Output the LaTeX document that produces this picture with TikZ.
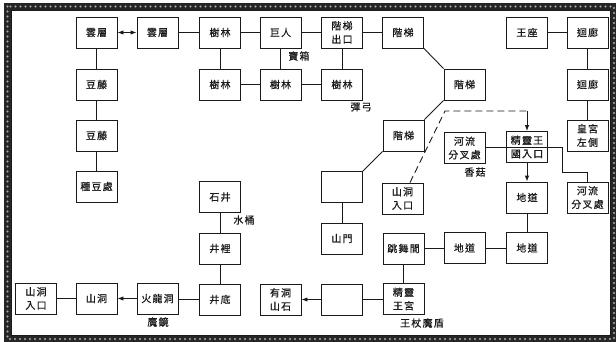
\documentclass[tikz,border=0pt]{standalone}
\usepackage{fontspec}
\setmainfont{Noto Sans CJK TC}[LetterSpace=12, FakeBold=0.6]
\usetikzlibrary{arrows.meta}
\definecolor{ink}{HTML}{1A1A1A}
\definecolor{bord}{HTML}{262626}
\tikzset{
  room/.style={draw=ink, line width=0.9pt, minimum width=41pt, minimum height=31pt,
    inner sep=0pt, align=center, font=\fontsize{10}{13.5}\selectfont, text=ink},
  lbl/.style={font=\fontsize{10}{12}\selectfont, text=ink, inner sep=0pt},
  link/.style={draw=ink, line width=0.9pt},
  arr/.style={link, -{Latex[length=6pt,width=4.5pt]}},
  darr/.style={link, {Latex[length=6pt,width=4.5pt]}-{Latex[length=6pt,width=4.5pt]}},
  dlink/.style={link, dash pattern=on 7pt off 4pt}
}
\begin{document}
\begin{tikzpicture}[x=1pt,y=-1pt]
\useasboundingbox (0,0) rectangle (616,341);
% decorative frame
\draw[bord, line width=6.5pt] (7.5,6.5) rectangle (614,339);
\draw[gray!65, line width=2.4pt, line cap=round, dash pattern=on 0pt off 5pt] (7.5,6.5) rectangle (614,339);
\draw[ink, line width=0.8pt] (11,10) rectangle (610.5,335.5);

% row 1
\node[room] (yc1) at (96.5,32.5) {雲層};
\node[room] (yc2) at (157.5,32.5) {雲層};
\node[room] (sl1) at (220,32.5) {樹林};
\node[room] (jr) at (280.5,32.5) {巨人};
\node[room] (jtck) at (342,32.5) {階梯\\出口};
\node[room] (jt1) at (403,32.5) {階梯};
\node[room] (wz) at (527,32.5) {王座};
\node[room] (hl1) at (587.5,32.5) {迴廊};
% row 2
\node[room] (dt1) at (96.5,84.5) {豆藤};
\node[room] (sl2) at (220,84.5) {樹林};
\node[room] (sl3) at (280.5,84.5) {樹林};
\node[room] (sl4) at (342,84.5) {樹林};
\node[room] (jt2) at (464.5,84.5) {階梯};
\node[room] (hl2) at (587.5,84.5) {迴廊};
% row 3
\node[room] (dt2) at (96.5,135.5) {豆藤};
\node[room] (jt3) at (403.5,135.5) {階梯};
\node[room] (hgzc) at (587.5,135.5) {皇宮\\左側};
\node[room] (hll) at (464.5,148) {河流\\分叉處};
\node[room] (jlwg) at (527,147) {精靈王\\國入口};
% row 4
\node[room] (zdc) at (96.5,186.5) {種豆處};
\node[room] (emp1) at (342,187) {};
\node[room] (sj) at (220,197) {石井};
\node[room] (sdrk) at (402.5,198.5) {山洞\\入口};
\node[room] (dd1) at (527,197.5) {地道};
\node[room] (hlr) at (587.5,197.5) {河流\\分叉處};
% row 5
\node[room] (sm) at (342,238.5) {山門};
\node[room] (jl) at (220,248.5) {井裡};
\node[room] (twj) at (403.5,248.5) {跳舞間};
\node[room] (dd2) at (464.5,248) {地道};
\node[room] (dd3) at (527,248) {地道};
% row 6
\node[room] (jd) at (220,299.5) {井底};
\node[room] (jlwg2) at (403.5,299) {精靈\\王宮};
\node[room] (emp2) at (342,299.5) {};
\node[room] (ydss) at (280.5,299.5) {有洞\\山石};
\node[room] (sdrk2) at (36,298.5) {山洞\\入口};
\node[room] (sd) at (96.5,298.5) {山洞};
\node[room] (hld) at (157.5,298.5) {火龍洞};

% labels
\node[lbl] (lb1) at (299,56) {寶箱};
\node[lbl] (lb2) at (361,107) {彈弓};
\node[lbl] (lb3) at (475,172) {香菇};
\node[lbl] (lb4) at (244,220) {水桶};
\node[lbl] (lb5) at (158,322) {魔鏡};
\node[lbl] (lb6) at (422,323) {王杖魔盾};

% connectors
\draw[darr] (yc1) -- (yc2);
\draw[link] (yc2) -- (sl1);
\draw[link] (sl1) -- (jr);
\draw[link] (jr) -- (jtck);
\draw[link] (jtck) -- (jt1);
\draw[link] (wz) -- (hl1);
\draw[link] (hl1) -- (hl2);
\draw[link] (hl2) -- (hgzc);
\draw[link] (yc1) -- (dt1);
\draw[link] (dt1) -- (dt2);
\draw[link] (dt2) -- (zdc);
\draw[link] (sl1) -- (sl2);
\draw[link] (sl2) -- (sl3);
\draw[link] (sl3) -- (sl4);
\draw[link] (jr) -- (sl3);
\draw[link] (jtck) -- (sl4);
\draw[link] (jt1.south east) -- (jt2.north west);
\draw[link] (jt2.south west) -- (jt3.north east);
\draw[link] (jt3.south west) -- (emp1.north east);
\draw[link] (emp1) -- (sm);
\coordinate (d1) at (445,111);
\coordinate (d2) at (527,111);
\draw[dlink] ([xshift=7.5pt]sdrk.north) -- (d1) -- (d2);
\draw[arr] (d2) -- (jlwg.north);
\draw[link] (hll.east |- jlwg.east) -- (jlwg.east);
\draw[arr] (jlwg) -- (dd1);
\coordinate (e1) at (562,147);
\coordinate (e2) at (562,172);
\coordinate (e3) at (587.5,172);
\draw[link] (jlwg.east) -- (e1) -- (e2) -- (e3) -- (hlr.north);
\draw[link] (dd1) -- (dd3);
\draw[link] (dd2) -- (dd3);
\draw[link] (twj.east |- dd2.west) -- (dd2.west);
\draw[link] (twj) -- (jlwg2);
\draw[link] (jlwg2.west) -- (emp2.east |- jlwg2.west);
\draw[arr] (emp2) -- (ydss);
\draw[link] (sj) -- (jl);
\draw[link] (jl) -- (jd);
\draw[link] (jd.west) -- (hld.east |- jd.west);
\draw[arr] (hld) -- (sd);
\draw[link] (sd) -- (sdrk2);
\end{tikzpicture}
\end{document}
